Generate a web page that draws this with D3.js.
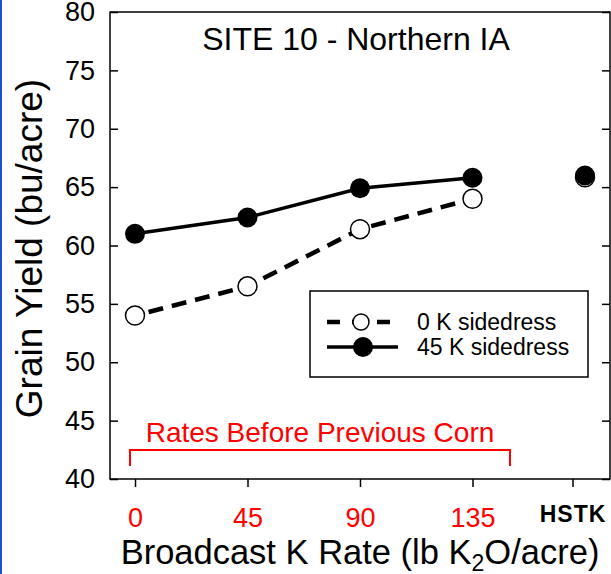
<!DOCTYPE html>
<html>
<head>
<meta charset="utf-8">
<script src="https://cdn.jsdelivr.net/npm/d3@7"></script>
<style>
  body { margin: 0; background: #fff; }
  svg { display: block; font-family: "Liberation Sans", Arial, sans-serif; }
</style>
</head>
<body>
<svg id="chart" width="611" height="574"></svg>
<script>
// K rates (lb K2O/acre), HSTK drawn at its own slot right of 135
var rates = [0, 45, 90, 135];
var tickValues = [0, 45, 90, 135, 175];
var tickLabels = ['0', '45', '90', '135', 'HSTK'];
var yTicks = [40, 45, 50, 55, 60, 65, 70, 75, 80];

var yield0K = [54.0, 56.5, 61.4, 64.0];
var yield45K = [61.0, 62.4, 64.9, 65.8];
var hstkX = 180;
var hstk0K = 65.85;
var hstk45K = 66.0;

var bracketRange = [-2, 150];

var svg = d3.select('#chart'),
    WIDTH = 611,
    HEIGHT = 574,
    MARGINS = {top: 12, right: 1, bottom: 95, left: 110},
    xRange = d3.scaleLinear()
        .domain([-10, 190])
        .range([MARGINS.left, WIDTH - MARGINS.right]),
    yRange = d3.scaleLinear()
        .domain([40, 80])
        .range([HEIGHT - MARGINS.bottom, MARGINS.top]);

// blue edge on the left of the picture
svg.append('line')
    .attr('x1', 1).attr('x2', 1).attr('y1', 0).attr('y2', HEIGHT)
    .attr('stroke', '#1f4fd0').attr('stroke-width', 2);

// frame
svg.append('rect')
    .attr('x', xRange(-10)).attr('y', yRange(80))
    .attr('width', xRange(190) - xRange(-10))
    .attr('height', yRange(40) - yRange(80))
    .attr('fill', 'none').attr('stroke', '#000').attr('stroke-width', 1.5);

var yAxis = d3.axisLeft(yRange).tickValues(yTicks).tickSizeInner(-8).tickSizeOuter(0).tickPadding(15);
var gy = svg.append('g')
    .attr('transform', 'translate(' + xRange(-10) + ',0)')
    .call(yAxis);
gy.select('.domain').remove();
gy.selectAll('line').attr('stroke', '#000').attr('stroke-width', 1.5);
gy.selectAll('text').attr('font-size', 27).attr('fill', '#000')
    .attr('font-family', '"Liberation Sans", Arial, sans-serif');

var yAxisR = d3.axisRight(yRange).tickValues(yTicks).tickSizeInner(-8).tickSizeOuter(0).tickFormat('');
var gyr = svg.append('g')
    .attr('transform', 'translate(' + xRange(190) + ',0)')
    .call(yAxisR);
gyr.select('.domain').remove();
gyr.selectAll('line').attr('stroke', '#000').attr('stroke-width', 1.5);

var xAxis = d3.axisBottom(xRange).tickValues(tickValues).tickSizeInner(8).tickSizeOuter(0).tickPadding(21)
    .tickFormat(function(d, i){ return tickLabels[i]; });
var gx = svg.append('g')
    .attr('transform', 'translate(0,' + yRange(40) + ')')
    .call(xAxis);
gx.select('.domain').remove();
gx.selectAll('line').attr('stroke', '#000').attr('stroke-width', 1.5);
gx.selectAll('text')
    .attr('font-family', '"Liberation Sans", Arial, sans-serif')
    .attr('font-size', function(d, i){ return i == 4 ? 23 : 27; })
    .attr('font-weight', function(d, i){ return i == 4 ? 'bold' : 'normal'; })
    .attr('letter-spacing', function(d, i){ return i == 4 ? 1 : 0; })
    .attr('dy', function(d, i){ return i == 4 ? '0.6em' : '0.71em'; })
    .attr('fill', function(d, i){ return i == 4 ? '#000' : '#ff0000'; });

// axis titles
svg.append('text')
    .attr('x', (xRange(-10) + xRange(190)) / 2).attr('y', 564)
    .attr('text-anchor', 'middle').attr('font-size', 34.5)
    .html('Broadcast K Rate (lb K<tspan font-size="23" dy="7">2</tspan><tspan dy="-7">O/acre)</tspan>');

svg.append('text')
    .attr('transform', 'translate(42,' + ((yRange(40) + yRange(80)) / 2 + 3) + ') rotate(-90)')
    .attr('text-anchor', 'middle').attr('font-size', 37)
    .text('Grain Yield (bu/acre)');

svg.append('text')
    .attr('x', 356).attr('y', 50)
    .attr('text-anchor', 'middle').attr('font-size', 32)
    .text('SITE 10 - Northern IA');

// bracket for rates before previous corn
var bTop = 450, bBot = 466;
svg.append('path')
    .attr('d', 'M' + xRange(bracketRange[0]) + ',' + bBot + 'V' + bTop +
               'H' + xRange(bracketRange[1]) + 'V' + bBot)
    .attr('fill', 'none').attr('stroke', '#ff0000').attr('stroke-width', 2);
svg.append('text')
    .attr('x', 320).attr('y', 442)
    .attr('text-anchor', 'middle').attr('font-size', 28).attr('fill', '#ff0000')
    .text('Rates Before Previous Corn');

// series
var lineFunc = d3.line()
    .x(function(d) { return xRange(d.x); })
    .y(function(d) { return yRange(d.y); });

var data45 = rates.map(function(r, i){ return {x: r, y: yield45K[i]}; });
var data0 = rates.map(function(r, i){ return {x: r, y: yield0K[i]}; });

svg.append('path')
    .attr('d', lineFunc(data45))
    .attr('stroke', '#000').attr('stroke-width', 3.5).attr('fill', 'none');
svg.selectAll('.dot45').data(data45).enter().append('circle')
    .attr('cx', function(d){ return xRange(d.x); })
    .attr('cy', function(d){ return yRange(d.y); })
    .attr('r', 10).attr('fill', '#000');

svg.append('path')
    .attr('d', lineFunc(data0))
    .attr('stroke', '#000').attr('stroke-width', 4.5).attr('fill', 'none')
    .attr('stroke-dasharray', '15,9').attr('stroke-dashoffset', -14);
svg.selectAll('.dot0').data(data0).enter().append('circle')
    .attr('cx', function(d){ return xRange(d.x); })
    .attr('cy', function(d){ return yRange(d.y); })
    .attr('r', 9.5).attr('fill', '#fff').attr('stroke', '#000').attr('stroke-width', 1.5);

// HSTK check
svg.append('circle')
    .attr('cx', xRange(hstkX)).attr('cy', yRange(hstk0K))
    .attr('r', 9.5).attr('fill', '#fff').attr('stroke', '#000').attr('stroke-width', 1.5);
svg.append('circle')
    .attr('cx', xRange(hstkX)).attr('cy', yRange(hstk45K))
    .attr('r', 10).attr('fill', '#000');

// legend
var leg = svg.append('g');
leg.append('rect')
    .attr('x', 310).attr('y', 291).attr('width', 278).attr('height', 86)
    .attr('fill', '#fff').attr('stroke', '#000').attr('stroke-width', 1.5);
leg.append('line')
    .attr('x1', 327).attr('x2', 398).attr('y1', 322).attr('y2', 322)
    .attr('stroke', '#000').attr('stroke-width', 4.5).attr('stroke-dasharray', '13,12');
leg.append('circle').attr('cx', 361).attr('cy', 322).attr('r', 8)
    .attr('fill', '#fff').attr('stroke', '#000').attr('stroke-width', 1.5);
leg.append('line')
    .attr('x1', 327).attr('x2', 398).attr('y1', 347).attr('y2', 347)
    .attr('stroke', '#000').attr('stroke-width', 3.5);
leg.append('circle').attr('cx', 363).attr('cy', 347).attr('r', 10).attr('fill', '#000');
leg.append('text').attr('x', 417).attr('y', 330).attr('font-size', 23).text('0 K sidedress');
leg.append('text').attr('x', 417).attr('y', 355).attr('font-size', 23).text('45 K sidedress');
</script>
</body>
</html>
